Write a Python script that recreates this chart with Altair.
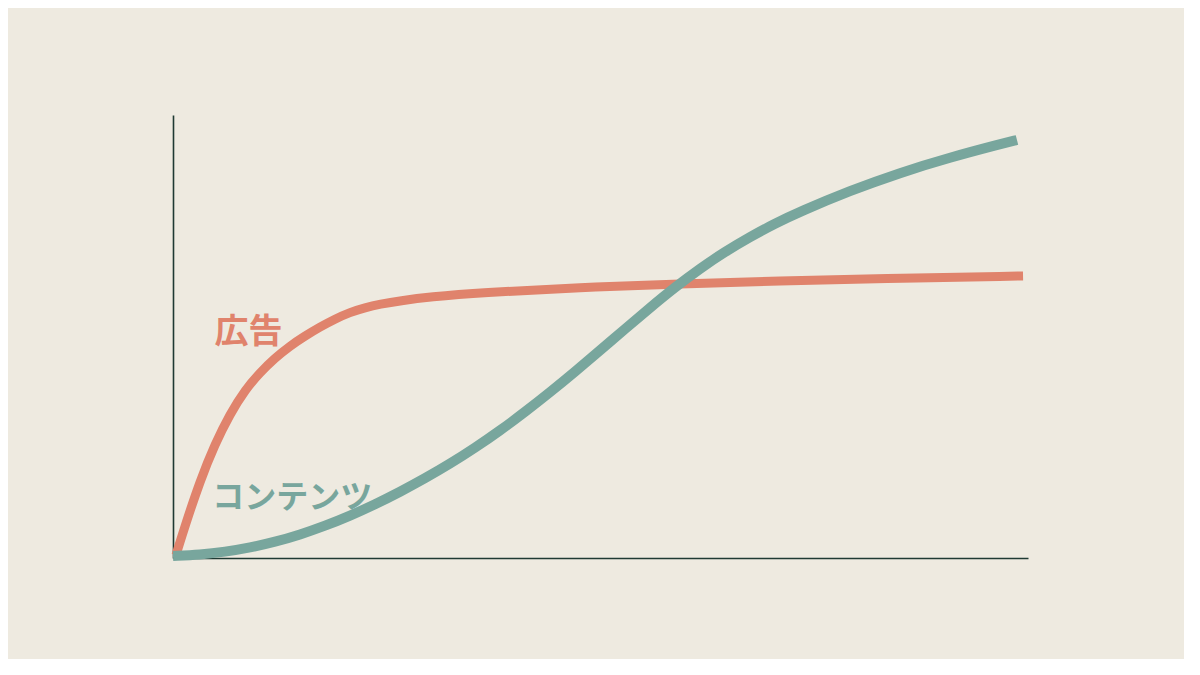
import altair as alt
import pandas as pd

# 広告 (advertising) curve
ad_x = [0.35, 1.40, 3.16, 4.91, 6.67, 8.42, 10.18, 11.93, 13.68, 15.44, 17.19, 18.95, 20.70, 22.46, 24.21, 26.55, 30.06, 35.91, 47.60, 59.30, 70.99, 82.69, 99.42]
ad_y = [0.68, 7.22, 17.38, 25.73, 32.51, 37.92, 41.87, 45.15, 47.86, 50.11, 52.14, 53.95, 55.46, 56.52, 57.29, 58.06, 58.94, 59.91, 61.06, 61.85, 62.53, 63.07, 63.66]

# コンテンツ (content) curve
ct_x = [0.0, 3.16, 6.08, 9.01, 11.93, 14.85, 17.78, 20.70, 23.63, 26.55, 29.47, 32.40, 35.32, 38.25, 41.17, 44.09, 47.02, 49.94, 52.87, 55.79, 58.71, 61.64, 64.56, 67.49, 70.41, 73.33, 79.18, 85.03, 90.88, 96.73, 98.71]
ct_y = [0.45, 0.76, 1.38, 2.34, 3.63, 5.27, 7.25, 9.53, 12.10, 14.92, 17.97, 21.26, 24.85, 28.75, 32.96, 37.40, 42.05, 46.86, 51.72, 56.50, 61.11, 65.35, 69.12, 72.48, 75.49, 78.17, 82.91, 86.98, 90.41, 93.41, 94.36]

labels = ["広告", "コンテンツ"]
label_x = [4.85, 4.6]
label_y = [50.8, 13.6]
label_size = [34, 32]

RED = "#E0836C"
TEAL = "#78A69D"
AXIS = "#1F3A33"
BG = "#EEEAE0"

ad_df = pd.DataFrame({"x": ad_x, "y": ad_y})
ct_df = pd.DataFrame({"x": ct_x, "y": ct_y})
lab_df = pd.DataFrame({"x": label_x, "y": label_y, "t": labels, "c": [RED, TEAL], "s": label_size})

xs = alt.Scale(domain=[0, 100], nice=False, zero=False)
ys = alt.Scale(domain=[0, 100], nice=False, zero=False)
axis = alt.Axis(title=None, labels=False, ticks=False, grid=False)

ad_line = alt.Chart(ad_df).mark_line(
    color=RED, strokeWidth=9, interpolate="basis", strokeCap="butt"
).encode(
    x=alt.X("x:Q", scale=xs, axis=axis),
    y=alt.Y("y:Q", scale=ys, axis=axis),
    order="x:Q",
)

ct_line = alt.Chart(ct_df).mark_line(
    color=TEAL, strokeWidth=10, interpolate="basis", strokeCap="butt"
).encode(
    x=alt.X("x:Q", scale=xs, axis=axis),
    y=alt.Y("y:Q", scale=ys, axis=axis),
    order="x:Q",
)

text = alt.Chart(lab_df).mark_text(
    align="left", baseline="middle", fontWeight="bold",
    font="Noto Sans CJK JP"
).encode(
    x=alt.X("x:Q", scale=xs, axis=axis),
    y=alt.Y("y:Q", scale=ys, axis=axis),
    text="t:N",
    color=alt.Color("c:N", scale=None, legend=None),
    size=alt.Size("s:Q", scale=None, legend=None),
)

chart = alt.layer(ad_line, ct_line, text).properties(
    width=855,
    height=443,
    background=BG,
    padding={"left": 165, "top": 107, "right": 156, "bottom": 101},
    autosize=alt.AutoSizeParams(type="none"),
).configure_view(stroke=None).configure_axis(
    domainColor=AXIS, domainWidth=1.6, domainOpacity=1
)

chart.save("out.html", embed_options={"renderer": "svg", "actions": False})
